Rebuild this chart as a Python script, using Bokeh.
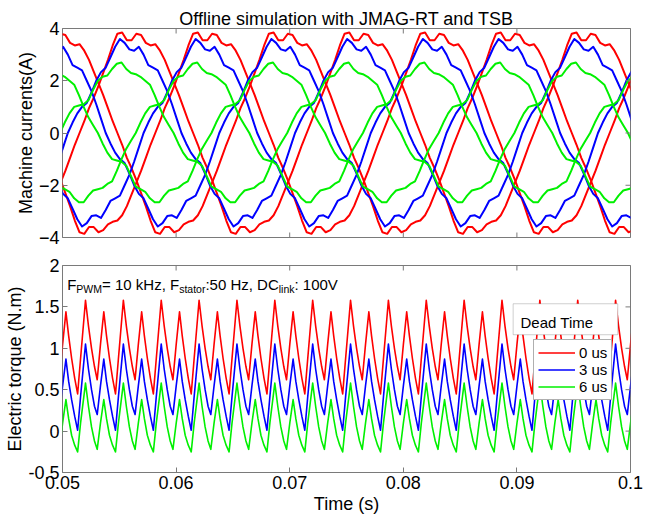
import numpy as np
from bokeh.plotting import figure
from bokeh.layouts import column
from bokeh.models import (Range1d, Legend, LegendItem, Label, BoxAnnotation,
                          FixedTicker, NumeralTickFormatter)
from bokeh.embed import file_html
from bokeh.resources import INLINE

# ---------------------------------------------------------------- data
t_start, t_end = 0.05, 0.1
f_stator = 50.0                      # Hz, electrical
T = 1.0 / f_stator

dead_times = ["0 us", "3 us", "6 us"]
colors = ["#ff0000", "#0000ff", "#00f000"]

# one period of a phase current, sampled every 7.5 electrical degrees
theta_deg = np.arange(0.0, 360.0, 7.5)
i_0us = [0.0, 0.45, 0.95, 1.35, 1.8, 2.3, 2.8, 3.35, 3.8, 3.85, 3.55, 3.55,
         3.8, 3.75, 3.45, 3.35, 3.4, 3.15, 2.8, 2.35, 1.9, 1.45, 0.95, 0.45,
         0.0, -0.45, -0.95, -1.35, -1.8, -2.3, -2.8, -3.35, -3.8, -3.86, -3.6, -3.6,
         -3.8, -3.72, -3.5, -3.4, -3.35, -3.15, -2.8, -2.35, -1.9, -1.45, -0.95, -0.45]
i_3us = [0.0, 0.4, 0.75, 1.0, 1.15, 1.55, 2.0, 2.33, 2.5, 2.9, 3.3, 3.6,
         3.45, 3.2, 3.15, 3.3, 3.0, 2.6, 2.5, 2.4, 2.0, 1.6, 1.1, 0.55,
         0.0, -0.4, -0.75, -1.0, -1.15, -1.55, -2.0, -2.33, -2.5, -2.9, -3.3, -3.58,
         -3.45, -3.18, -3.15, -3.25, -2.95, -2.6, -2.5, -2.4, -2.0, -1.6, -1.1, -0.55]
i_6us = [0.0, 0.4, 0.75, 1.0, 1.05, 1.1, 1.25, 1.65, 2.0, 2.15, 2.2, 2.45,
         2.65, 2.7, 2.45, 2.3, 2.25, 2.15, 2.0, 1.85, 1.45, 1.0, 0.6, 0.3,
         0.0, -0.4, -0.75, -1.0, -1.05, -1.1, -1.25, -1.65, -2.05, -2.15, -2.25, -2.5,
         -2.65, -2.65, -2.4, -2.2, -2.15, -2.1, -1.95, -1.85, -1.45, -1.0, -0.6, -0.3]
# time of the rising zero crossing of phase a (s)
t_zero = [0.05150, 0.05047, 0.04978]

# torque: one 300 Hz ripple period, starting at the taller peak
tq_dt_ms = [0.0, 0.26, 0.53, 0.79, 1.03, 1.32, 1.61, 1.85, 2.11, 2.38, 2.64, 2.90, 3.333]
tq_0us = [1.58, 1.27, 1.0, 0.78, 0.62, 1.05, 1.44, 1.15, 0.88, 0.64, 0.45, 0.88, 1.58]
tq_3us = [1.05, 0.75, 0.5, 0.3, 0.2, 0.55, 0.87, 0.6, 0.38, 0.18, 0.01, 0.42, 1.05]
tq_6us = [0.58, 0.3, 0.05, -0.12, -0.22, 0.1, 0.38, 0.15, -0.05, -0.17, -0.25, 0.1, 0.58]
t_first_peak = 0.052025

currents = [i_0us, i_3us, i_6us]
torques = [tq_0us, tq_3us, tq_6us]

xticks = [0.05, 0.06, 0.07, 0.08, 0.09, 0.1]
yticks_i = [-4, -2, 0, 2, 4]
yticks_tq = [-0.5, 0, 0.5, 1, 1.5, 2]

FONT = "Liberation Sans"
BOX = "#7a7a7a"


def phase_trace(t0, samples, shift):
    """Repeat one sampled period over the plotted window."""
    th = theta_deg / 360.0
    ts, vs = [], []
    for k in range(-2, 3):
        ts.append(t0 + shift + (k + th) * T)
        vs.append(np.asarray(samples))
    ts.append([t0 + shift + 3 * T])
    vs.append([samples[0]])
    return np.concatenate(ts), np.concatenate(vs)


def torque_trace(samples):
    dt = np.asarray(tq_dt_ms[:-1]) * 1e-3
    period = tq_dt_ms[-1] * 1e-3
    ts, vs = [], []
    for k in range(-1, 16):
        ts.append(t_first_peak + k * period + dt)
        vs.append(np.asarray(samples[:-1]))
    return np.concatenate(ts), np.concatenate(vs)


def style(p, yticks, ylo, yhi, label_x=True):
    p.outline_line_color = BOX
    p.outline_line_width = 1
    p.xgrid.visible = False
    p.ygrid.visible = False
    p.background_fill_color = "white"
    p.border_fill_color = "white"
    for ax in p.xaxis + p.yaxis:
        ax.axis_line_color = None
        ax.major_tick_in = 5
        ax.major_tick_out = 0
        ax.minor_tick_line_color = None
        ax.major_tick_line_color = BOX
        ax.major_label_text_font = FONT
        ax.major_label_text_font_size = "18px"
        ax.major_label_text_color = "black"
        ax.major_label_standoff = 3
        ax.axis_label_text_font = FONT
        ax.axis_label_text_font_size = "18px"
        ax.axis_label_text_font_style = "normal"
        ax.axis_label_text_color = "black"
        ax.axis_label_standoff = 0
    p.xaxis.ticker = FixedTicker(ticks=xticks)
    p.yaxis.ticker = FixedTicker(ticks=yticks)
    if not label_x:
        p.xaxis.visible = False
        # inward ticks along the bottom edge
        p.scatter(xticks, [ylo] * len(xticks), marker="dash", angle=np.pi / 2,
                  size=10, line_color=BOX, line_width=1)
    # inward ticks along the top and right edges
    p.scatter(xticks, [yhi] * len(xticks), marker="dash", angle=np.pi / 2,
              size=10, line_color=BOX, line_width=1)
    p.scatter([t_end] * len(yticks), yticks, marker="dash", size=10,
              line_color=BOX, line_width=1)


# ---------------------------------------------------------------- currents
p1 = figure(width=646, height=250, output_backend="svg", toolbar_location=None,
            x_range=Range1d(t_start, t_end), y_range=Range1d(-4, 4),
            min_border_left=62, min_border_right=16, min_border_top=28,
            min_border_bottom=13)
p1.title.text = "Offline simulation with JMAG-RT and TSB"
p1.title.align = "center"
p1.title.text_font = FONT
p1.title.text_font_size = "18px"
p1.title.text_font_style = "normal"
p1.title.text_color = "black"
p1.title.standoff = 0
p1.yaxis.axis_label = "Machine currents(A)"

for samples, t0, c in zip(currents, t_zero, colors):
    for ph in range(3):
        ts, vs = phase_trace(t0, samples, ph * T / 3.0)
        p1.line(ts, vs, line_color=c, line_width=2, line_join="round")

style(p1, yticks_i, -4, 4, label_x=False)

# ---------------------------------------------------------------- torque
p2 = figure(width=646, height=269, output_backend="svg", toolbar_location=None,
            x_range=Range1d(t_start, t_end), y_range=Range1d(-0.5, 2),
            min_border_left=62, min_border_right=16, min_border_top=15,
            min_border_bottom=47)
p2.xaxis.axis_label = "Time (s)"
p2.yaxis.axis_label = "Electric torque (N.m)"

items = []
for samples, c, name in zip(torques, colors, dead_times):
    ts, vs = torque_trace(samples)
    r = p2.line(ts, vs, line_color=c, line_width=1.6, line_join="round")
    items.append(LegendItem(label=name, renderers=[r]))

style(p2, yticks_tq, -0.5, 2)
p2.yaxis.formatter = NumeralTickFormatter(format="0.[0]")
p2.xaxis.formatter = NumeralTickFormatter(format="0.0[0]")
p2.xaxis.axis_label_standoff = 2

legend = Legend(items=items, location=(471, 72), padding=4, spacing=0,
                label_height=17, glyph_height=17, glyph_width=37,
                label_standoff=4, label_text_font=FONT, label_text_font_size="15px",
                label_text_color="black",
                border_line_color="#606060", border_line_width=1,
                background_fill_color="white", background_fill_alpha=1.0,
                margin=0)
p2.add_layout(legend, "center")

# "Dead Time" heading box above the legend entries
p2.add_layout(BoxAnnotation(left=0.08967, right=0.09888, bottom=1.164, top=1.538,
                            fill_color="white", fill_alpha=1.0,
                            line_color="#606060", line_width=1))
p2.add_layout(Label(x=0.09032, y=1.309, text="Dead Time", text_font=FONT,
                    text_font_size="15px", text_color="black",
                    text_baseline="alphabetic"))

# operating point annotation with subscripts
AW = {'F': .611, '=': .584, ' ': .278, '1': .556, '0': .556, 'k': .5, 'H': .722,
      'z': .5, ',': .278, ':': .278, '5': .556, 'D': .722, 'C': .722, 'V': .667,
      'P': .667, 'W': .944, 'M': .833, 's': .5, 't': .278, 'a': .556, 'o': .556,
      'r': .333, 'l': .222, 'i': .222, 'n': .556}
pieces = [("F", False), ("PWM", True), ("= 10 kHz, F", False), ("stator", True),
          (":50 Hz, DC", False), ("link", True), (": 100V", False)]
main_fs, sub_fs = 15.0, 10.5
xoff = 4.7
for txt, sub in pieces:
    fs = sub_fs if sub else main_fs
    p2.add_layout(Label(x=t_start, y=1.774, x_offset=xoff, y_offset=-5 if sub else 0,
                        text=txt, text_font=FONT, text_font_size=f"{fs}px",
                        text_color="black", text_baseline="alphabetic"))
    xoff += sum(AW[ch] for ch in txt) * fs

layout = column(p1, p2, spacing=0)
open("out.html", "w").write(file_html(layout, INLINE))
